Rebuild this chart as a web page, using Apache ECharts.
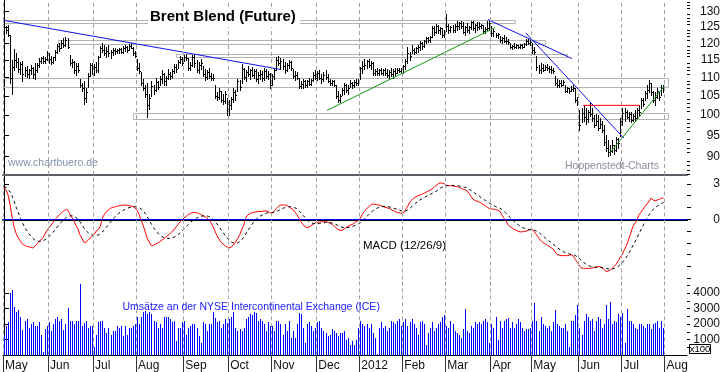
<!DOCTYPE html>
<html><head><meta charset="utf-8">
<script src="https://cdn.jsdelivr.net/npm/echarts@6/dist/echarts.min.js"></script>
<style>html,body{margin:0;padding:0;background:#fff}#c{width:723px;height:372px}</style>
</head><body><div id="c"></div>
<script>
// ---------- DATA ----------
const monthLabels = ['May','Jun','Jul','Aug','Sep','Oct','Nov','Dec','2012','Feb','Mar','Apr','May','Jun','Jul','Aug'];
const monthDays   = [22,22,21,23,22,21,22,21,21,21,22,20,23,21,21,11];

const high = [
127.1,125.5,125.8,122.5,115.0,118.2,117.0,115.5,114.5,114.8,
113.0,113.4,112.5,113.5,113.0,114.0,114.2,115.5,116.0,116.3,
116.0,117.8,117.0,116.3,116.0,118.0,119.9,120.0,121.0,121.5,
121.8,121.5,116.5,115.4,114.8,114.0,114.2,109.7,108.6,109.0,
107.0,111.4,114.0,114.2,113.8,114.5,116.3,119.2,120.2,119.5,
118.8,119.4,118.0,118.6,118.4,118.2,118.7,118.5,119.2,119.6,
119.3,119.8,120.2,118.8,117.8,115.4,114.2,111.5,109.5,108.0,
108.4,105.5,109.0,108.0,109.8,109.0,110.5,112.0,111.2,110.5,
112.5,111.5,112.3,113.9,113.7,115.0,116.3,115.8,116.6,116.8,
115.5,114.5,116.5,116.6,115.0,114.5,115.2,113.4,112.5,112.0,
112.8,111.4,111.0,107.8,106.0,107.0,106.4,105.5,106.2,104.5,
103.8,104.8,107.0,106.5,109.7,109.2,113.7,112.8,112.2,113.4,
112.5,113.0,112.3,112.5,111.5,112.0,111.8,112.8,112.5,111.8,
111.4,111.0,112.6,115.8,116.3,115.5,115.4,114.5,114.0,115.0,
114.8,112.5,111.8,111.6,110.0,109.0,109.7,109.2,109.4,110.0,
109.5,111.5,112.0,111.8,112.2,111.0,111.5,112.0,111.0,109.7,
109.4,109.2,107.8,106.2,105.5,107.0,108.6,108.2,107.8,109.2,
108.8,109.4,109.7,109.5,113.0,114.8,115.4,115.0,115.2,114.6,
114.5,112.5,112.8,112.4,112.6,112.3,112.8,112.5,112.0,112.7,
112.3,112.8,112.6,112.8,112.6,113.5,115.4,118.8,117.5,119.5,
118.5,119.0,119.6,120.8,120.5,121.0,121.8,122.0,122.3,125.5,
125.5,126.0,125.8,125.0,124.6,124.2,129.3,126.0,125.5,125.8,
126.0,127.1,126.6,127.0,126.5,125.5,126.2,125.5,127.0,126.8,
126.0,126.5,126.5,126.0,125.7,125.0,126.8,127.1,125.5,124.4,
123.3,123.0,122.3,122.0,122.4,121.8,121.2,120.2,119.6,120.0,
119.8,119.6,119.9,119.7,120.2,121.2,121.5,121.0,120.2,119.0,
116.3,113.5,114.2,113.8,113.5,113.7,113.2,113.3,112.8,110.3,
109.7,109.2,109.4,109.2,107.8,107.5,107.2,107.6,107.8,107.0,
104.8,101.2,101.9,102.5,101.7,101.2,103.0,101.7,99.9,100.4,
99.9,99.2,98.6,97.4,95.0,93.8,92.6,93.8,92.6,94.5,
94.3,99.2,101.7,101.7,101.2,100.7,100.7,100.4,101.2,101.7,
102.5,104.5,104.3,106.4,107.8,109.2,108.6,106.4,105.9,107.0,
105.9,107.8,107.8];

const low = [
124.5,123.3,122.1,108.5,105.6,112.0,113.0,111.5,111.0,109.0,
110.5,110.2,110.0,111.0,110.0,109.7,111.5,113.0,114.0,114.2,
114.0,115.0,114.2,113.8,114.0,115.0,117.0,117.8,118.5,119.0,
119.2,118.6,113.5,113.0,111.2,110.6,111.5,107.5,106.4,102.9,
103.5,107.5,110.5,111.0,110.8,111.5,111.5,116.0,117.5,116.5,
116.0,116.3,115.7,116.5,116.8,117.0,117.2,117.0,117.0,117.8,
117.5,118.0,118.4,116.6,115.8,112.0,111.2,108.0,106.5,104.8,
99.6,101.5,105.0,105.6,106.4,106.8,107.8,108.5,108.0,107.8,
109.7,109.7,110.0,111.4,111.5,112.8,114.0,113.5,114.8,115.0,
112.0,112.0,113.3,113.0,111.5,111.4,112.3,110.5,109.2,109.5,
110.0,109.2,109.3,104.5,103.8,104.2,103.3,102.8,103.2,100.0,
99.9,101.5,103.3,104.0,106.4,106.6,108.4,109.5,109.0,110.5,
109.7,110.3,109.8,109.0,108.6,109.5,109.0,109.2,110.0,109.5,
107.0,108.0,109.5,112.0,113.5,112.5,112.5,111.4,111.8,112.6,
112.0,110.0,109.2,109.5,107.0,107.0,107.2,107.5,107.3,107.8,
107.8,109.0,109.5,109.2,109.5,108.4,109.0,109.7,108.8,107.8,
107.8,107.6,104.5,103.3,103.5,105.1,105.5,106.0,105.5,107.3,
107.2,107.5,107.8,107.8,109.5,111.4,112.5,112.6,113.0,112.5,
110.6,110.6,110.6,110.8,111.0,110.7,110.8,110.2,110.0,110.5,
110.0,110.8,111.4,111.5,111.2,111.4,112.5,114.2,115.0,117.0,
116.8,117.0,117.5,118.0,118.2,118.8,120.0,120.5,120.4,121.8,
122.4,123.2,123.3,122.8,121.8,121.9,123.9,123.3,123.4,123.5,
123.5,124.2,124.5,124.8,123.0,122.4,123.5,123.0,124.5,124.0,
123.4,124.2,124.5,124.6,123.3,123.2,124.0,124.5,122.3,122.3,
121.8,121.5,120.4,120.2,120.4,120.0,119.8,118.4,118.2,118.5,
118.4,118.5,118.6,118.4,118.9,119.4,119.8,119.6,117.2,116.8,
112.0,111.2,111.4,111.8,112.0,112.0,111.6,111.4,111.4,107.8,
107.3,107.5,107.6,107.8,106.0,105.9,105.8,106.2,106.4,103.3,
102.5,96.2,98.2,98.6,97.7,98.2,99.7,98.6,97.0,97.4,
96.2,96.7,95.7,92.6,91.4,90.1,90.3,91.0,90.5,91.4,
92.0,94.8,97.4,98.6,99.2,98.4,98.2,98.6,98.6,99.2,
99.9,101.7,102.3,103.8,104.3,105.9,105.1,103.3,102.5,104.3,
103.8,105.1,105.9];

const close = [
125.0,124.0,122.5,110.0,113.0,115.0,114.5,112.5,113.8,111.0,
112.0,111.0,112.0,112.8,111.0,112.0,113.5,114.8,115.5,114.8,
115.4,117.0,115.2,114.5,115.8,117.5,119.2,118.5,120.2,119.6,
121.0,119.0,114.0,114.5,112.0,113.3,112.0,108.0,107.0,104.5,
106.0,110.5,113.5,112.3,113.0,112.0,116.0,118.4,118.0,117.2,
117.8,117.0,117.5,118.0,117.6,117.9,118.2,117.5,118.5,119.0,
118.0,119.2,118.6,117.0,116.3,112.8,111.8,108.5,107.0,105.5,
102.5,104.5,107.7,106.5,108.8,107.5,109.5,111.0,109.0,110.0,
111.0,110.4,111.8,113.0,112.5,114.5,115.2,114.2,116.0,115.5,
112.8,113.6,115.8,114.0,112.2,113.6,114.0,111.0,110.2,111.5,
110.5,110.0,109.8,105.0,104.8,106.2,104.0,103.6,105.5,101.5,
102.5,104.2,106.0,105.2,109.0,107.5,112.5,110.2,111.5,111.0,
112.0,110.8,111.7,109.5,110.8,111.0,109.8,111.8,110.5,111.0,
108.0,110.5,112.0,115.0,114.2,114.8,113.2,112.0,113.5,114.4,
112.6,110.5,110.8,109.8,107.6,108.2,108.9,107.8,109.0,108.2,
109.2,110.8,110.0,111.2,110.0,109.5,110.8,110.2,109.0,108.5,
109.0,108.0,105.0,103.8,105.0,106.5,107.8,106.6,107.2,108.5,
107.8,108.8,108.4,109.1,112.8,113.4,113.5,114.6,113.6,114.0,
111.2,111.8,111.2,112.0,111.4,112.0,111.2,110.8,111.6,111.0,
111.8,111.4,112.2,111.8,112.4,113.2,114.8,117.0,116.2,118.0,
117.5,118.7,119.0,120.2,119.2,120.6,121.5,121.0,122.0,124.8,
123.5,125.4,124.0,124.6,122.6,123.5,125.5,124.0,125.0,124.2,
125.5,125.5,126.3,125.2,123.6,125.0,124.0,125.0,126.5,124.8,
125.6,125.0,125.2,125.6,123.8,124.3,124.6,126.2,123.0,123.8,
122.4,122.8,121.0,121.5,120.8,120.6,120.5,118.8,119.3,119.0,
119.4,118.8,119.5,119.0,119.8,120.6,120.2,120.5,118.0,117.4,
113.0,112.0,112.6,112.2,113.1,112.6,112.3,112.0,111.7,108.5,
108.0,108.5,107.8,108.8,106.4,107.0,106.2,106.8,107.2,103.8,
103.2,97.5,100.5,99.5,99.0,100.8,100.2,99.2,97.5,98.5,
96.8,97.8,96.2,93.5,92.0,91.0,91.2,92.8,91.5,94.0,
93.2,98.4,100.5,100.8,99.6,100.2,98.8,99.8,99.2,101.2,
100.8,104.0,102.8,105.8,106.5,108.5,106.0,104.0,104.8,106.2,
104.8,107.0,106.8];

const macd = [
2.66,2.5,2.05,1.2,0.1,-0.7,-1.25,-1.58,-1.85,-2.1,
-2.2,-2.28,-2.32,-2.38,-2.43,-2.3,-2.08,-1.92,-1.75,-1.54,
-1.25,-0.95,-0.7,-0.5,-0.25,0.02,0.17,0.38,0.55,0.7,
0.82,0.8,0.5,0.2,-0.05,-0.5,-0.75,-1.3,-1.6,-1.95,
-1.95,-1.78,-1.6,-1.46,-1.3,-1.0,-0.88,-0.6,0.1,0.4,
0.65,0.8,0.93,1.0,1.05,1.1,1.14,1.17,1.19,1.2,
1.2,1.16,1.12,1.08,0.95,0.77,0.4,-0.1,-0.55,-1.1,
-1.65,-1.95,-2.25,-2.2,-2.1,-2.02,-1.9,-1.78,-1.65,-1.5,
-1.37,-1.22,-1.05,-0.9,-0.65,-0.45,-0.2,-0.05,0.12,0.25,
0.4,0.48,0.57,0.57,0.56,0.5,0.42,0.32,0.24,0.15,
-0.08,-0.25,-0.6,-1.0,-1.4,-1.7,-1.92,-2.1,-2.25,-2.35,
-2.42,-2.35,-2.18,-1.95,-1.65,-1.35,-0.9,-0.5,0.1,0.35,
0.48,0.55,0.6,0.62,0.65,0.66,0.68,0.7,0.71,0.65,
0.55,0.52,0.7,0.92,1.1,1.2,1.22,1.2,1.18,1.08,
0.95,0.85,0.62,0.4,0.1,-0.2,-0.45,-0.62,-0.71,-0.65,
-0.52,-0.42,-0.3,-0.27,-0.24,-0.21,-0.19,-0.17,-0.25,-0.32,
-0.4,-0.55,-0.7,-0.86,-0.93,-0.94,-0.82,-0.7,-0.6,-0.5,
-0.45,-0.32,-0.2,-0.1,0.1,0.45,0.68,0.86,1.05,1.2,
1.29,1.27,1.24,1.21,1.15,1.08,1.03,0.98,0.92,0.83,
0.75,0.65,0.57,0.55,0.51,0.55,0.82,1.05,1.43,1.6,
1.78,1.9,1.98,2.05,2.12,2.2,2.28,2.38,2.47,2.56,
2.7,2.88,3.0,3.08,3.06,3.0,2.88,2.85,2.84,2.83,
2.8,2.76,2.73,2.66,2.56,2.5,2.43,2.2,1.95,1.7,
1.6,1.53,1.47,1.36,1.25,1.15,1.02,0.9,0.88,0.86,
0.82,0.77,0.7,0.4,0.12,-0.1,-0.45,-0.6,-0.73,-0.84,
-0.92,-1.02,-1.07,-1.06,-1.04,-1.0,-0.92,-0.88,-0.86,-1.08,
-1.3,-1.55,-1.8,-1.95,-2.05,-2.15,-2.28,-2.4,-2.5,-2.75,
-2.98,-3.03,-3.07,-3.08,-3.08,-3.08,-3.05,-3.0,-3.1,-3.4,
-3.65,-3.95,-4.14,-4.15,-4.16,-4.16,-4.15,-4.14,-4.1,-4.05,
-4.0,-4.02,-4.12,-4.25,-4.42,-4.38,-4.3,-4.15,-3.98,-3.8,
-3.5,-3.2,-2.95,-2.55,-2.2,-1.7,-1.2,-0.65,-0.35,-0.12,
0.35,0.6,0.85,1.1,1.3,1.55,1.8,1.62,1.57,1.63,
1.7,1.77,1.8];

const signal = [
2.75,2.7,2.55,2.3,1.95,1.5,1.0,0.55,0.1,-0.3,
-0.65,-0.95,-1.2,-1.42,-1.6,-1.74,-1.82,-1.86,-1.86,-1.82,
-1.73,-1.6,-1.45,-1.28,-1.08,-0.86,-0.65,-0.44,-0.24,-0.06,
0.1,0.22,0.28,0.3,0.27,0.16,0.03,-0.2,-0.45,-0.72,
-0.95,-1.12,-1.25,-1.33,-1.38,-1.38,-1.33,-1.24,-1.08,-0.88,
-0.66,-0.44,-0.22,-0.02,0.17,0.35,0.5,0.63,0.74,0.84,
0.92,0.98,1.02,1.05,1.06,1.04,0.98,0.86,0.7,0.48,
0.2,-0.1,-0.42,-0.7,-0.94,-1.14,-1.32,-1.45,-1.55,-1.6,
-1.63,-1.62,-1.58,-1.52,-1.43,-1.3,-1.15,-0.98,-0.8,-0.62,
-0.44,-0.27,-0.12,0.0,0.1,0.18,0.25,0.28,0.3,0.29,
0.24,0.16,0.03,-0.16,-0.4,-0.65,-0.9,-1.14,-1.37,-1.58,
-1.77,-1.92,-2.0,-2.03,-2.0,-1.9,-1.75,-1.53,-1.26,-0.97,
-0.7,-0.45,-0.22,-0.03,0.13,0.26,0.36,0.45,0.52,0.56,
0.58,0.58,0.6,0.66,0.74,0.83,0.91,0.98,1.03,1.06,
1.06,1.04,0.98,0.88,0.73,0.55,0.34,0.14,-0.05,-0.2,
-0.3,-0.36,-0.38,-0.38,-0.36,-0.33,-0.3,-0.27,-0.26,-0.28,
-0.31,-0.36,-0.43,-0.52,-0.6,-0.67,-0.71,-0.72,-0.7,-0.66,
-0.61,-0.55,-0.48,-0.4,-0.3,-0.15,0.02,0.2,0.38,0.55,
0.7,0.83,0.93,1.0,1.05,1.08,1.08,1.07,1.05,1.01,
0.96,0.9,0.84,0.78,0.72,0.68,0.7,0.78,0.9,1.04,
1.2,1.36,1.5,1.62,1.73,1.83,1.92,2.01,2.1,2.19,
2.28,2.38,2.5,2.62,2.72,2.8,2.84,2.86,2.87,2.87,
2.86,2.85,2.83,2.8,2.76,2.71,2.65,2.57,2.46,2.33,
2.2,2.08,1.96,1.84,1.72,1.6,1.48,1.36,1.26,1.16,
1.08,1.01,0.94,0.84,0.7,0.54,0.36,0.17,0.0,-0.17,
-0.32,-0.46,-0.58,-0.68,-0.76,-0.82,-0.86,-0.88,-0.89,-0.93,
-1.0,-1.1,-1.24,-1.39,-1.54,-1.68,-1.82,-1.96,-2.09,-2.23,
-2.38,-2.51,-2.63,-2.73,-2.82,-2.89,-2.94,-2.97,-3.0,-3.07,
-3.18,-3.33,-3.5,-3.65,-3.78,-3.88,-3.96,-4.02,-4.06,-4.07,
-4.07,-4.06,-4.07,-4.1,-4.16,-4.2,-4.22,-4.21,-4.16,-4.09,
-3.97,-3.82,-3.64,-3.42,-3.18,-2.9,-2.6,-2.25,-1.93,-1.6,
-1.24,-0.9,-0.55,-0.22,0.08,0.38,0.65,0.85,1.0,1.12,
1.23,1.33,1.42];

const volume = [
1330,1890,2110,4000,4220,3110,2780,2890,2440,1600,2180,2330,1780,2000,2150,1890,1890,2110,1330,220,1670,1890,
2110,1560,2000,2330,2440,2220,2330,1600,2000,3070,2220,2220,2000,2220,2220,4560,1890,2050,2220,1780,1890,1890,
560,1330,2110,2220,2180,1780,1440,1780,1330,1560,1560,1890,1780,1890,1220,1890,1330,1780,1780,1890,2000,
2440,2000,2440,2780,2850,2670,2780,2670,2220,2110,1780,2000,1780,2440,2490,2440,2330,2110,2220,890,1780,1780,2110,
2220,1330,1780,1890,2000,2000,1780,1220,780,2110,2000,1560,2000,2000,2780,2400,2110,2220,1780,2000,2330,2050,
2330,2440,2780,1780,1560,1670,1560,1780,2330,2440,2670,2560,2780,2720,2220,2330,2220,2000,1560,2110,1890,
1890,1560,2220,2220,2000,1330,2000,1560,2220,1110,1560,1110,2000,2720,2670,1780,780,2000,2110,1890,1560,1780,
2110,2220,1780,1560,1440,1220,1330,1670,1560,1440,1220,1440,1440,1560,1000,1110,670,890,670,1000,1780,
2220,2000,1890,2000,1780,2000,1440,1110,110,1780,2110,1780,1890,1560,1780,2220,2110,2000,2220,2330,1890,
2110,2330,1890,2110,2330,2000,1780,1330,2110,2220,2000,670,1440,1780,2110,1560,1780,2000,2110,2440,2560,
1890,1780,2220,2000,1560,1440,1330,1110,1670,3000,1560,1440,1890,1780,2110,2000,2110,2000,2220,2330,2110,780,
2000,1780,2440,1000,2220,1780,2220,2330,2400,1780,2110,1780,2000,2330,2110,1780,1560,1670,1670,1780,
2220,3330,2220,1560,2440,2000,1890,1780,1890,1560,2110,2890,2000,1890,1780,1780,2000,1560,560,2180,2220,2560,3220,
1780,1330,2220,2670,2440,2220,2330,1560,2220,2440,2330,1780,2000,3220,2330,3400,2000,2220,2110,2670,2440,
2720,780,3000,2220,2220,2000,1780,1670,2000,2000,1890,1780,2000,2000,1670,2000,2050,2220,1780,2220,1780];

const priceTicks  = [90,95,100,105,110,115,120,125,130];
const macdTicks   = [0,3];
const volumeTicks = [1000,2000,3000,4000];
const priceRange  = [85.9, 133.9];
const macdRange   = [-5.10, 3.75];
const volumeMax   = 4870;

// annotations in data units: [fromDay, toDay, lowPrice, highPrice]
const bands = [
  [-0.5, 249.5, 126.4, 127.4],
  [26.4, 264.1, 119.8, 121.0],
  [84.0, 274.9, 116.0, 116.9],
  [-0.5, 324.2, 107.5, 109.9],
  [63.0, 324.2, 99.2, 100.6]
];
const blueTrends  = [[[-0.5,127.2],[134.8,112.3]], [[236.3,127.4],[277.3,115.4]], [[254.7,123.2],[302.7,94.3]]];
const greenTrends = [[[157.7,101.2],[239.7,124.8]], [[295.9,90.9],[322.7,107.8]]];
const redLevel    = [[282.7,102.5],[310.5,102.5]];

// ---------- BUILD ----------
const LN = Math.log;
let acc = 0;
const bounds = monthDays.map(d => { const b = acc - 0.5; acc += d; return b; });
const xMax = acc - 0.5;
const FONT = '"Liberation Sans", Arial, sans-serif';

const priceMinor = []; for (let p = 86; p <= 133; p++) if (p % 5) priceMinor.push(LN(p));
const macdMinor = []; for (let v = -5; v <= 3; v++) macdMinor.push(v);
const volMinor = []; for (let v = 500; v <= 4500; v += 500) volMinor.push(v);

const gridLines = bounds.map(b => ({ xAxis: b }));
const gridLineStyle = { color: '#a4a4a4', type: [4, 3], width: 1 };
function monthMarks(extra) {
  return { silent: true, symbol: ['none','none'], label: { show: false }, animation: false,
           lineStyle: gridLineStyle, data: gridLines.concat(extra || []) };
}
const crisp = v => Math.round(v) + 0.5;

function xAxisBase(gi, extra) {
  return Object.assign({ type: 'value', gridIndex: gi, min: -0.5, max: xMax,
    axisLabel: { show: false }, axisTick: { show: false }, splitLine: { show: false } }, extra);
}
function yAxisBase(gi, min, max, extra) {
  return Object.assign({ type: 'value', gridIndex: gi, position: 'right', min: min, max: max,
    splitLine: { show: false }, axisLine: { show: true, lineStyle: { color: '#000', width: 1 } } }, extra);
}
const labelStyle = { fontFamily: FONT, fontSize: 12, color: '#111', align: 'right', margin: 33 };

const option = {
  animation: false,
  backgroundColor: '#fff',
  grid: [
    { left: 3, right: 36, top: 0, height: 175 },
    { left: 3, right: 36, top: 175, height: 104.5 },
    { left: 3, right: 36, top: 279.5, height: 75.8 }
  ],
  xAxis: [
    xAxisBase(0, { axisLine: { show: true, lineStyle: { color: '#625a66', width: 2 } } }),
    xAxisBase(1, { axisLine: { show: true, lineStyle: { color: '#000', width: 2 } } }),
    xAxisBase(2, {
      axisLine: { show: true, lineStyle: { color: '#000', width: 1 } },
      axisTick: { show: true, customValues: bounds, length: 17, lineStyle: { color: '#333' } },
      axisLabel: { show: true, customValues: bounds, align: 'left', margin: 4, padding: [0,0,0,2],
        fontFamily: FONT, fontSize: 12, color: '#111',
        formatter: v => { const k = bounds.findIndex(b => Math.abs(b - v) < 0.01); return k >= 0 ? monthLabels[k] : ''; } }
    })
  ],
  yAxis: [
    yAxisBase(0, LN(priceRange[0]), LN(priceRange[1]), {
      axisTick: { show: true, customValues: priceTicks.map(LN), length: 5 },
      axisLabel: Object.assign({ customValues: priceTicks.map(LN), formatter: v => String(Math.round(Math.exp(v))) }, labelStyle)
    }),
    yAxisBase(0, LN(priceRange[0]), LN(priceRange[1]), {
      axisLine: { show: false }, axisTick: { show: true, customValues: priceMinor, length: 3, lineStyle: { color: '#000' } },
      axisLabel: { show: false }
    }),
    yAxisBase(1, macdRange[0], macdRange[1], {
      axisTick: { show: true, customValues: macdTicks, length: 5 },
      axisLabel: Object.assign({ customValues: macdTicks, formatter: v => String(Math.round(v)) }, labelStyle)
    }),
    yAxisBase(1, macdRange[0], macdRange[1], {
      axisLine: { show: false }, axisTick: { show: true, customValues: macdMinor, length: 4, lineStyle: { color: '#000' } },
      axisLabel: { show: false }
    }),
    yAxisBase(2, 0, volumeMax, {
      axisTick: { show: true, customValues: volumeTicks, length: 5 },
      axisLabel: Object.assign({ customValues: volumeTicks, formatter: v => String(Math.round(v)) }, labelStyle)
    }),
    yAxisBase(2, 0, volumeMax, {
      axisLine: { show: false }, axisTick: { show: true, customValues: volMinor, length: 3, lineStyle: { color: '#000' } },
      axisLabel: { show: false }
    })
  ],
  series: [
    { // support / resistance boxes
      type: 'custom', xAxisIndex: 0, yAxisIndex: 0, z: 1, silent: true,
      encode: { x: [0, 1], y: [2, 3] },
      data: bands.map(b => [b[0], b[1], LN(b[2]), LN(b[3])]),
      renderItem: (params, api) => {
        const p0 = api.coord([api.value(0), api.value(3)]);
        const p1 = api.coord([api.value(1), api.value(2)]);
        return { type: 'rect', shape: { x: crisp(p0[0]), y: crisp(p0[1]), width: Math.round(p1[0] - p0[0]), height: Math.round(p1[1] - p0[1]) },
                 style: { fill: 'none', stroke: '#b2b2b2', lineWidth: 1 } };
      },
      markLine: monthMarks()
    },
    { // HLC bars
      type: 'custom', xAxisIndex: 0, yAxisIndex: 0, z: 3, silent: true,
      encode: { x: 0, y: [1, 2, 3] },
      data: high.map((h, i) => [i, LN(h), LN(low[i]), LN(close[i])]),
      renderItem: (params, api) => {
        const i = api.value(0);
        const pH = api.coord([i, api.value(1)]);
        const pL = api.coord([i, api.value(2)]);
        const pC = api.coord([i, api.value(3)]);
        const x = crisp(pH[0]);
        const yc = crisp(pC[1]);
        return { type: 'group', children: [
          { type: 'line', shape: { x1: x, y1: Math.round(pH[1]), x2: x, y2: Math.round(pL[1]) + 1 }, style: { stroke: '#000', lineWidth: 1 } },
          { type: 'line', shape: { x1: x, y1: yc, x2: x + 1.5, y2: yc }, style: { stroke: '#000', lineWidth: 1 } }
        ] };
      }
    }
  ].concat(
    blueTrends.map(t => ({ type: 'line', xAxisIndex: 0, yAxisIndex: 0, z: 4, silent: true, symbol: 'none',
      lineStyle: { color: '#1010f0', width: 1 }, data: t.map(p => [p[0], LN(p[1])]) })),
    greenTrends.map(t => ({ type: 'line', xAxisIndex: 0, yAxisIndex: 0, z: 4, silent: true, symbol: 'none',
      lineStyle: { color: '#119a11', width: 1 }, data: t.map(p => [p[0], LN(p[1])]) })),
    [{ type: 'line', xAxisIndex: 0, yAxisIndex: 0, z: 4, silent: true, symbol: 'none',
      lineStyle: { color: '#ff0000', width: 1 }, data: redLevel.map(p => [p[0], LN(p[1])]) }],
    [
      { type: 'line', xAxisIndex: 1, yAxisIndex: 2, z: 4, silent: true, symbol: 'none',
        lineStyle: { color: '#ff0000', width: 1 }, data: macd.map((v, i) => [i, v]),
        markLine: monthMarks([{ yAxis: 0, lineStyle: { color: '#0000ff', type: 'solid', width: 1.2 } }]) },
      { type: 'line', xAxisIndex: 1, yAxisIndex: 2, z: 4, silent: true, symbol: 'none',
        lineStyle: { color: '#000', width: 1, type: [3, 3] }, data: signal.map((v, i) => [i, v]) },
      { type: 'custom', xAxisIndex: 2, yAxisIndex: 4, z: 3, silent: true,
        encode: { x: 0, y: 1 },
        data: volume.map((v, i) => [i, v]),
        renderItem: (params, api) => {
          const p0 = api.coord([api.value(0), 0]);
          const p1 = api.coord([api.value(0), api.value(1)]);
          const x = crisp(p0[0]);
          return { type: 'line', shape: { x1: x, y1: p0[1], x2: x, y2: Math.round(p1[1]) }, style: { stroke: '#0000ff', lineWidth: 1 } };
        },
        markLine: monthMarks() }
    ]
  ),
  graphic: [
    { type: 'rect', z: 100, silent: true, shape: { x: 148, y: 7, width: 152, height: 20 }, style: { fill: '#fff' } },
    { type: 'text', z: 101, silent: true, x: 150, y: 17, style: { text: 'Brent Blend (Future)', font: 'bold 15px ' + FONT, fill: '#000', verticalAlign: 'middle' } },
    { type: 'text', z: 101, silent: true, x: 8, y: 163.5, style: { text: 'www.chartbuero.de', font: '10.5px ' + FONT, fill: '#8292aa', verticalAlign: 'middle' } },
    { type: 'text', z: 101, silent: true, x: 565, y: 166, style: { text: 'Hoppenstedt-Charts', font: '10.5px ' + FONT, fill: '#8c8c9c', verticalAlign: 'middle' } },
    { type: 'text', z: 101, silent: true, x: 363, y: 246, style: { text: 'MACD (12/26/9)', font: '11.5px ' + FONT, fill: '#000', verticalAlign: 'middle' } },
    { type: 'text', z: 101, silent: true, x: 122.5, y: 307.5, style: { text: 'Umsätze an der NYSE Intercontinental Exchange (ICE)', font: '10.5px ' + FONT, fill: '#2020ff', verticalAlign: 'middle' } },
    { type: 'rect', z: 100, silent: true, shape: { x: 689.5, y: 344.5, width: 21, height: 9 }, style: { fill: '#fff', stroke: '#000', lineWidth: 1 } },
    { type: 'text', z: 101, silent: true, x: 700, y: 349.2, style: { text: 'x100', font: '9.5px ' + FONT, fill: '#000', align: 'center', verticalAlign: 'middle' } }
  ]
};

const chart = echarts.init(document.getElementById('c'), null, { renderer: 'canvas' });
chart.setOption(option);
</script>
</body></html>
